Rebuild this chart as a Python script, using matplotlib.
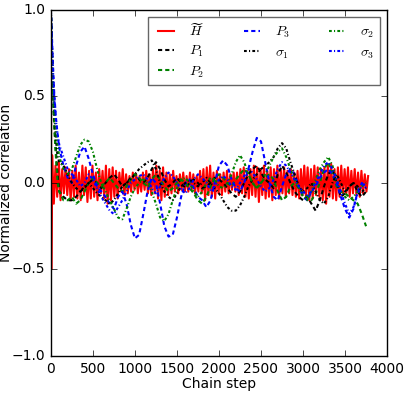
import numpy as np
import matplotlib

matplotlib.use("Agg")
import matplotlib.pyplot as plt

plt.style.use("classic")

# Step grid for the smooth curves: fine at the start, then every 50 steps
early_steps = [0, 10, 20, 30, 40, 60, 80]
steps = np.concatenate([early_steps, np.arange(100, 3800, 50)])

p1 = [1.0, 0.8, 0.62, 0.47, 0.35, 0.18, 0.05,
      -0.05, -0.08, -0.1, -0.1, -0.08, -0.05, -0.03, 0.0, 0.02, 0.0,
      -0.03, 0.0, 0.03, 0.05, 0.02, -0.02, 0.0, 0.03, 0.05, 0.02,
      0.0, 0.03, 0.08, 0.12, 0.08, 0.02, -0.02, 0.0, 0.03, 0.0,
      -0.03, 0.0, 0.02, 0.0, -0.03, -0.02, 0.0, 0.03, 0.02, 0.0,
      -0.03, -0.06, -0.08, -0.05, 0.0, 0.05, 0.08, 0.1, 0.06, 0.02,
      0.0, -0.03, 0.05, 0.1, 0.06, 0.0, -0.05, -0.08, -0.1, -0.08,
      -0.12, -0.16, -0.1, -0.02, 0.05, 0.08, 0.0, -0.08, -0.06, -0.02,
      0.0, -0.05, -0.08, -0.05]

p2 = [1.0, 0.78, 0.6, 0.45, 0.32, 0.15, 0.0,
      -0.05, -0.1, -0.1, -0.08, -0.12, -0.1, -0.05, 0.0, 0.03, 0.0,
      -0.02, 0.0, 0.03, 0.0, -0.03, -0.05, -0.02, 0.02, 0.05, 0.03,
      0.0, -0.02, 0.02, 0.05, 0.02, -0.02, -0.05, -0.03, 0.0, 0.02,
      0.0, -0.03, -0.06, -0.1, -0.12, -0.08, -0.02, 0.03, 0.05, 0.03,
      0.0, -0.02, 0.02, 0.05, 0.08, 0.05, 0.0, -0.03, 0.0, 0.03,
      0.05, 0.02, -0.05, -0.1, -0.08, -0.02, 0.0, -0.03, -0.06, -0.08,
      -0.1, -0.06, 0.0, 0.08, 0.12, 0.05, -0.02, -0.05, -0.06, -0.08,
      -0.1, -0.12, -0.18, -0.25]

p3 = [1.0, 0.88, 0.75, 0.62, 0.52, 0.38, 0.28,
      0.2, 0.1, 0.03, 0.0, 0.1, 0.18, 0.21, 0.14, 0.05, -0.02,
      -0.05, -0.08, -0.12, -0.15, -0.08, -0.05, -0.12, -0.24, -0.32, -0.3,
      -0.18, -0.05, 0.03, 0.0, -0.12, -0.25, -0.31, -0.3, -0.2, -0.08,
      0.0, 0.02, -0.03, -0.08, -0.1, -0.14, -0.1, 0.0, 0.1, 0.13,
      0.1, 0.02, -0.03, -0.05, 0.0, 0.08, 0.18, 0.26, 0.24, 0.12,
      0.0, -0.08, -0.1, -0.02, 0.05, 0.08, 0.05, -0.02, -0.08, -0.1,
      -0.05, -0.02, 0.03, 0.06, 0.08, 0.05, 0.0, -0.08, -0.15, -0.2,
      -0.15, -0.05, 0.0, -0.03]

sigma1 = [1.0, 0.82, 0.66, 0.52, 0.4, 0.25, 0.15,
          0.12, 0.1, 0.05, 0.0, -0.03, -0.05, -0.02, 0.0, -0.03, -0.06,
          -0.08, -0.1, -0.12, -0.1, -0.06, -0.02, 0.0, 0.02, 0.05, 0.08,
          0.1, 0.12, 0.13, 0.08, 0.0, -0.05, -0.08, -0.1, -0.06, -0.02,
          0.0, 0.02, 0.0, -0.02, 0.0, 0.03, 0.0, -0.03, -0.06, -0.1,
          -0.14, -0.16, -0.16, -0.13, -0.08, -0.02, 0.02, 0.05, 0.08, 0.1,
          0.12, 0.15, 0.2, 0.23, 0.2, 0.12, 0.05, -0.02, -0.05, -0.03,
          0.0, -0.05, -0.1, -0.12, -0.08, 0.0, 0.05, 0.0, -0.05, -0.02,
          0.0, -0.02, -0.05, -0.03]

sigma2 = [1.0, 0.82, 0.66, 0.52, 0.42, 0.3, 0.22,
          0.15, 0.08, 0.05, 0.08, 0.15, 0.22, 0.25, 0.24, 0.18, 0.08,
          0.0, -0.05, -0.1, -0.15, -0.2, -0.21, -0.15, -0.08, -0.03, 0.0,
          0.02, 0.0, -0.05, -0.12, -0.2, -0.22, -0.18, -0.1, -0.03, 0.02,
          0.03, 0.0, -0.05, -0.08, -0.05, 0.0, 0.03, 0.02, -0.02, -0.03,
          0.0, 0.05, 0.12, 0.16, 0.12, 0.05, 0.0, -0.03, 0.0, 0.05,
          0.1, 0.15, 0.18, 0.2, 0.15, 0.08, 0.02, -0.03, -0.08, -0.1,
          -0.05, 0.02, 0.08, 0.12, 0.15, 0.1, 0.02, -0.05, -0.08, -0.1,
          -0.08, -0.05, -0.02, 0.0]

sigma3 = [1.0, 0.85, 0.72, 0.6, 0.5, 0.36, 0.28,
          0.22, 0.15, 0.08, 0.05, 0.02, -0.02, 0.0, 0.05, 0.02, -0.03,
          -0.08, -0.12, -0.16, -0.18, -0.14, -0.1, -0.05, 0.0, 0.02, 0.04,
          0.05, 0.02, -0.03, -0.06, -0.02, 0.03, 0.06, 0.04, 0.0, -0.04,
          -0.06, -0.03, 0.02, 0.05, 0.03, 0.0, -0.04, -0.02, 0.02, 0.04,
          0.02, -0.02, -0.04, 0.0, 0.04, 0.08, 0.06, 0.02, -0.02, -0.05,
          -0.03, 0.02, 0.08, 0.12, 0.1, 0.06, 0.02, -0.02, -0.05, -0.07,
          -0.05, 0.0, 0.05, 0.1, 0.12, 0.08, 0.02, -0.05, -0.12, -0.18,
          -0.14, -0.06, -0.02, 0.0]

# H-tilde oscillates fast, so it gets its own finer grid
h_steps = np.concatenate([[0, 5], np.arange(15, 3785, 20)])
h_tilde = [1.0, -0.5,
           0.16, -0.12, 0.1, -0.08, 0.12, -0.1, 0.08, -0.06, 0.09, -0.07,
           0.08, -0.1, 0.07, -0.08, 0.1, -0.09, 0.06, -0.1, 0.1, -0.07,
           0.09, -0.11, 0.07, -0.09, 0.1, -0.08, 0.06, -0.1, 0.08, -0.06,
           0.07, -0.09, 0.1, -0.12, 0.08, -0.1, 0.09, -0.08, 0.07, -0.09,
           0.06, -0.05, 0.08, -0.07, 0.05, -0.06, 0.04, -0.05, 0.06, -0.04,
           0.05, -0.06, 0.04, -0.05, 0.06, -0.04, 0.07, -0.06, 0.05, -0.07,
           0.08, -0.06, 0.1, -0.09, 0.07, -0.1, 0.09, -0.08, 0.06, -0.07,
           0.05, -0.06, 0.07, -0.05, 0.04, -0.06, 0.05, -0.04, 0.06, -0.05,
           0.04, -0.05, 0.06, -0.04, 0.05, -0.06, 0.04, -0.05, 0.07, -0.06,
           0.08, -0.1, 0.09, -0.07, 0.1, -0.08, 0.06, -0.09, 0.07, -0.06,
           0.05, -0.07, 0.06, -0.05, 0.07, -0.06, 0.05, -0.04, 0.06, -0.05,
           0.06, -0.07, 0.08, -0.06, 0.09, -0.08, 0.07, -0.09, 0.08, -0.07,
           0.1, -0.08, 0.09, -0.11, 0.08, -0.07, 0.1, -0.09, 0.07, -0.08,
           0.09, -0.1, 0.08, -0.07, 0.1, -0.09, 0.08, -0.06, 0.09, -0.08,
           0.07, -0.06, 0.08, -0.07, 0.06, -0.08, 0.07, -0.09, 0.08, -0.07,
           0.1, -0.08, 0.09, -0.1, 0.08, -0.09, 0.1, -0.07, 0.09, -0.08,
           0.08, -0.1, 0.09, -0.12, 0.1, -0.08, 0.11, -0.09, 0.08, -0.1,
           0.09, -0.08, 0.1, -0.07, 0.08, -0.06, 0.09, -0.08, 0.07, -0.06,
           0.08, -0.07, 0.06, -0.08, 0.07, -0.06, 0.05, -0.05, 0.04]

DASH = (3.0, 2.2)
DASHDOT = (2.0, 1.6, 0.8, 1.6)

fig = plt.figure(figsize=(4.07, 3.93), dpi=100, facecolor="white")
ax = fig.add_axes([0.125, 0.094, 0.826, 0.881])

ax.plot(h_steps, h_tilde, color="red", linestyle="-", linewidth=1.5,
        label=r"$\widetilde{H}$")
ax.plot(steps, p1, color="black", dashes=DASH, linewidth=1.5, label=r"$P_1$")
ax.plot(steps, p2, color="green", dashes=DASH, linewidth=1.5, label=r"$P_2$")
ax.plot(steps, p3, color="blue", dashes=DASH, linewidth=1.5, label=r"$P_3$")
ax.plot(steps, sigma1, color="black", dashes=DASHDOT, linewidth=1.5,
        label=r"$\sigma_1$")
ax.plot(steps, sigma2, color="green", dashes=DASHDOT, linewidth=1.5,
        label=r"$\sigma_2$")
ax.plot(steps, sigma3, color="blue", dashes=DASHDOT, linewidth=1.5,
        label=r"$\sigma_3$")

ax.set_xlim(0, 4000)
ax.set_ylim(-1.0, 1.0)
ax.set_xticks(np.arange(0, 4001, 500))
ax.set_yticks([-1.0, -0.5, 0.0, 0.5, 1.0])
ax.tick_params(labelsize=10)
ax.set_xlabel("Chain step", fontsize=10, labelpad=1)
ax.set_ylabel("Normalized correlation", fontsize=10)
ax.yaxis.set_label_coords(-0.113, 0.5)
leg = ax.legend(loc="upper right", ncol=3, fontsize=10, handlelength=1.75,
                handletextpad=0.8, columnspacing=2.5, labelspacing=0.35,
                borderaxespad=0.5)
leg.get_frame().set_edgecolor("0.4")

fig.savefig("out.png", dpi=100, facecolor="white")
